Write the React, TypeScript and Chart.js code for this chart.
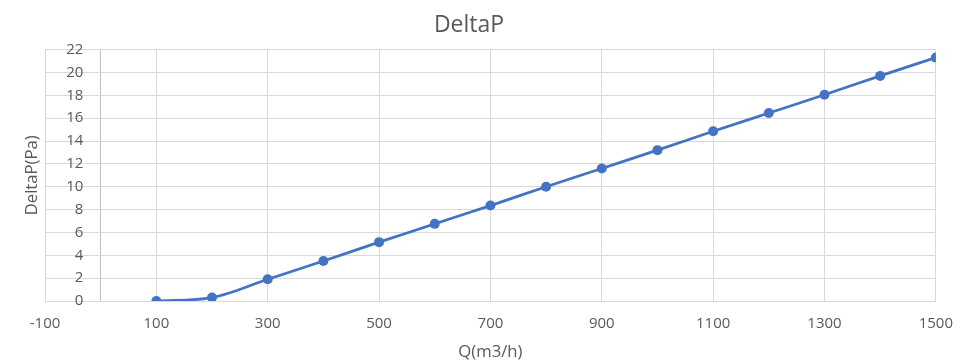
import React, { useEffect, useRef } from "react";
import { Chart, registerables } from "chart.js";

Chart.register(...registerables);

const chartTitle = "DeltaP";
const xAxisTitle = "Q(m3/h)";
const yAxisTitle = "DeltaP(Pa)";

const flowRates = [100, 200, 300, 400, 500, 600, 700, 800, 900, 1000, 1100, 1200, 1300, 1400, 1500];
const deltaP = [0, 0.3, 1.9, 3.5, 5.15, 6.75, 8.35, 10, 11.6, 13.2, 14.85, 16.45, 18.05, 19.7, 21.3];

const xTickValues = [-100, 100, 300, 500, 700, 900, 1100, 1300, 1500];
const yTickValues = [0, 2, 4, 6, 8, 10, 12, 14, 16, 18, 20, 22];
// the value axis crosses the category axis at x = 0
const yAxisCrossing = 0;

const TEXT = "#595959";
const GRID = "#D9D9D9";
const AXIS = "#BFBFBF";
const LINE = "#4472C4";
const FONT = "'Open Sans', 'Noto Sans', sans-serif";

export default function App() {
  const canvasRef = useRef<HTMLCanvasElement | null>(null);

  useEffect(() => {
    if (!canvasRef.current) return;
    const chart = new Chart(canvasRef.current, {
      type: "line",
      data: {
        datasets: [
          {
            label: chartTitle,
            data: flowRates.map((x, i) => ({ x, y: deltaP[i] })),
            borderColor: LINE,
            backgroundColor: LINE,
            borderWidth: 2.75,
            pointRadius: 5,
            pointBorderWidth: 0,
            pointBackgroundColor: LINE,
            cubicInterpolationMode: "monotone",
            fill: false,
          },
        ],
      },
      options: {
        animation: false,
        responsive: true,
        maintainAspectRatio: false,
        layout: { padding: { left: 0, right: 29, top: 0, bottom: 0 } },
        plugins: {
          legend: { display: false },
          tooltip: { enabled: false },
          title: {
            display: true,
            text: chartTitle,
            color: TEXT,
            font: { family: FONT, size: 23, weight: "normal" },
            padding: { top: 12, bottom: 10 },
          },
        },
        scales: {
          x: {
            type: "linear",
            position: "bottom",
            min: -100,
            max: 1500,
            afterBuildTicks: (scale: any) => {
              const vals = [...xTickValues, yAxisCrossing].sort((a, b) => a - b);
              scale.ticks = vals.map((v) => ({ value: v }));
            },
            afterFit: (scale: any) => {
              scale.height = 62;
            },
            grid: {
              color: (ctx: any) => (ctx.tick && ctx.tick.value === yAxisCrossing ? AXIS : GRID),
              lineWidth: 1,
              drawTicks: false,
            },
            border: { display: true, color: GRID, width: 1 },
            ticks: {
              color: TEXT,
              font: { family: FONT, size: 15 },
              padding: 14,
              maxRotation: 0,
              autoSkip: false,
              callback: (value: any) => (xTickValues.includes(Number(value)) ? String(value) : ""),
            },
            title: {
              display: true,
              text: xAxisTitle,
              color: TEXT,
              font: { family: FONT, size: 16.7 },
              padding: { top: 8, bottom: 1 },
            },
          },
          y: {
            type: "linear",
            position: { x: -31 } as any,
            min: 0,
            max: 22,
            afterBuildTicks: (scale: any) => {
              scale.ticks = yTickValues.map((v) => ({ value: v }));
            },
            grid: { color: GRID, lineWidth: 1, drawTicks: false },
            border: { display: false },
            ticks: {
              color: TEXT,
              font: { family: FONT, size: 15 },
              padding: 0,
              autoSkip: false,
              callback: (value: any) => String(value),
            },
          },
          yTitle: {
            type: "linear",
            position: "left",
            display: true,
            afterFit: (scale: any) => {
              scale.width = 45;
            },
            grid: { display: false, drawTicks: false },
            border: { display: false },
            ticks: { display: false },
            title: {
              display: true,
              text: yAxisTitle,
              color: TEXT,
              font: { family: FONT, size: 16.7 },
              padding: { top: 22, bottom: 3 },
            },
          },
        },
      },
    });
    return () => chart.destroy();
  }, []);

  return (
    <div style={{ position: "fixed", left: 0, top: 0, width: 967, height: 363, background: "#fff" }}>
      <canvas ref={canvasRef} />
    </div>
  );
}
